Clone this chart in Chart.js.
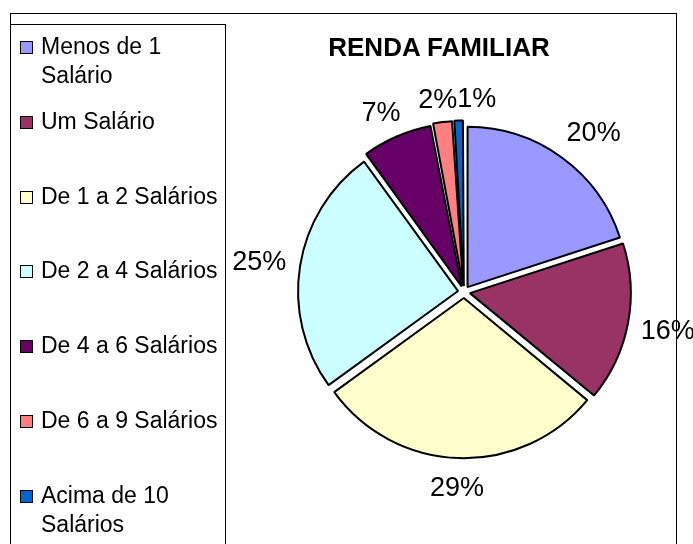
<!DOCTYPE html>
<html>
<head>
<meta charset="utf-8">
<script src="https://cdn.jsdelivr.net/npm/chart.js@4/dist/chart.umd.min.js"></script>
<style>
  html, body { margin: 0; padding: 0; background: #fff; }
  body { width: 693px; height: 544px; position: relative; overflow: hidden; font-family: "Liberation Sans", Arial, sans-serif; }
  #frame { position: absolute; left: 10px; top: 13px; width: 667px; height: 560px; border: 1px solid #000; box-sizing: border-box; }
  #legend { position: absolute; left: 10px; top: 24px; width: 216px; height: 560px; border: 1px solid #000; box-sizing: border-box; }
  canvas { position: absolute; left: 0; top: 0; }
  #title { position: absolute; left: 309px; top: 32px; width: 260px; text-align: center; font: bold 26px "Liberation Sans", Arial, sans-serif; line-height: 30px; white-space: nowrap; color: #000; }
  .item { position: absolute; left: 20px; width: 200px; font-size: 23px; line-height: 29px; color: #000; }
  .sw { position: absolute; left: 0; top: 9px; width: 13px; height: 13px; border: 1px solid #000; box-sizing: border-box; }
  .tx { position: absolute; left: 21px; top: 0; width: 182px; }
</style>
</head>
<body>
<div id="frame"></div>
<div id="legend"></div>
<canvas id="c" width="693" height="544"></canvas>
<div id="title"></div>
<script>
const chartTitle = "RENDA FAMILIAR";
const categories = ["Menos de 1 Salário", "Um Salário", "De 1 a 2 Salários", "De 2 a 4 Salários", "De 4 a 6 Salários", "De 6 a 9 Salários", "Acima de 10 Salários"];
const percentages = [20, 16, 29, 25, 7, 2, 1];
const colors = ["#9999FF", "#993366", "#FFFFCC", "#CCFFFF", "#660066", "#FF8080", "#0066CC"];

document.getElementById('title').textContent = chartTitle;

// HTML legend built from the arrays
categories.forEach((name, i) => {
  const it = document.createElement('div');
  it.className = 'item';
  it.style.top = (32 + i * 74.8) + 'px';
  const sw = document.createElement('div');
  sw.className = 'sw';
  sw.style.background = colors[i];
  const tx = document.createElement('div');
  tx.className = 'tx';
  tx.textContent = name;
  it.appendChild(sw); it.appendChild(tx);
  document.body.appendChild(it);
});

const clamp = (v) => Math.max(-1, Math.min(1, v));

const labelPlugin = {
  id: 'outLabels',
  afterDatasetsDraw(chart) {
    const ctx = chart.ctx;
    const meta = chart.getDatasetMeta(0);
    ctx.save();
    ctx.font = '27px "Liberation Sans", Arial, sans-serif';
    ctx.fillStyle = '#000';
    ctx.textAlign = 'center';
    ctx.textBaseline = 'middle';
    const h = 30;
    let prevRight = null;
    meta.data.forEach((arc, i) => {
      const p = arc.getProps(['x', 'y', 'startAngle', 'endAngle', 'outerRadius']);
      const mid = (p.startAngle + p.endAngle) / 2;
      const r = p.outerRadius + 20;
      const text = percentages[i] + '%';
      const w = ctx.measureText(text).width;
      const c = Math.cos(mid), s = Math.sin(mid);
      let x = p.x + c * r + clamp(c * 1.5) * w / 2;
      let y = p.y + s * r + clamp(s * 1.5) * h / 2 + 2;
      if (prevRight !== null && i >= 5 && x - w / 2 < prevRight) {
        x = prevRight + w / 2;
      }
      ctx.fillText(text, x, y);
      prevRight = x + w / 2;
    });
    ctx.restore();
  }
};

new Chart(document.getElementById('c'), {
  type: 'pie',
  data: {
    labels: categories,
    datasets: [{
      data: percentages,
      backgroundColor: colors,
      borderColor: '#000',
      borderWidth: 2,
      offset: 24,
      hoverOffset: 24
    }]
  },
  options: {
    responsive: false,
    animation: false,
    devicePixelRatio: 1,
    events: [],
    radius: 160,
    layout: { padding: { left: 240, right: 5, top: 52, bottom: 12 } },
    plugins: {
      legend: { display: false },
      title: { display: false },
      tooltip: { enabled: false }
    }
  },
  plugins: [labelPlugin]
});
</script>
</body>
</html>
